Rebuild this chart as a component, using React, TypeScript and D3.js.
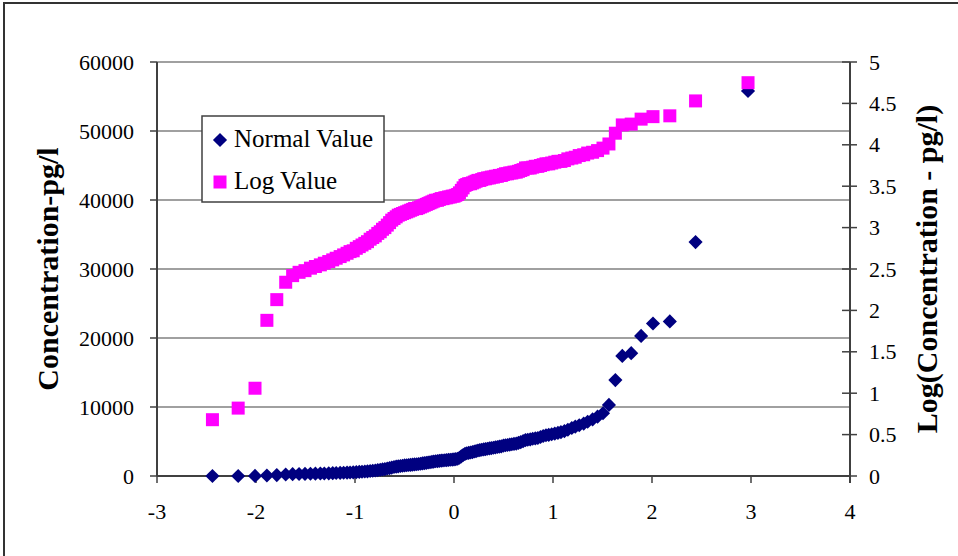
import React from "react";
import * as d3 from "d3";

// Normal scores (z) for each ranked sample
const zScores = [
  -2.44, -2.18, -2.01, -1.89, -1.79, -1.7, -1.63, -1.565, -1.505, -1.45,
  -1.4, -1.35, -1.31, -1.265, -1.225, -1.19, -1.15, -1.115, -1.08, -1.05,
  -1.018, -0.987, -0.957, -0.929, -0.901, -0.874, -0.847, -0.821, -0.795, -0.77,
  -0.745, -0.722, -0.698, -0.674, -0.651, -0.629, -0.606, -0.584, -0.563, -0.541,
  -0.52, -0.499, -0.478, -0.458, -0.438, -0.418, -0.398, -0.377, -0.358, -0.338,
  -0.319, -0.3, -0.28, -0.261, -0.242, -0.223, -0.205, -0.186, -0.167, -0.148,
  -0.129, -0.111, -0.092, -0.074, -0.055, -0.037, -0.018, 0, 0.018, 0.037,
  0.055, 0.074, 0.092, 0.111, 0.129, 0.148, 0.167, 0.186, 0.205, 0.223,
  0.242, 0.261, 0.28, 0.3, 0.319, 0.338, 0.358, 0.377, 0.398, 0.418,
  0.438, 0.458, 0.478, 0.499, 0.52, 0.541, 0.563, 0.584, 0.606, 0.629,
  0.651, 0.674, 0.698, 0.722, 0.745, 0.77, 0.795, 0.821, 0.847, 0.874,
  0.901, 0.929, 0.957, 0.987, 1.018, 1.05, 1.08, 1.115, 1.15, 1.19,
  1.225, 1.265, 1.31, 1.35, 1.4, 1.45, 1.505, 1.565, 1.63, 1.7,
  1.79, 1.89, 2.01, 2.18, 2.44, 2.97,
];

// Concentration (pg/l), left axis
const normalValues = [
  5, 7, 11, 76, 135, 220, 265, 290, 305, 320,
  340, 355, 370, 390, 410, 430, 450, 470, 490, 510,
  530, 560, 590, 620, 650, 680, 720, 760, 800, 850,
  900, 950, 1000, 1080, 1150, 1220, 1300, 1350, 1400, 1450,
  1490, 1530, 1560, 1590, 1620, 1650, 1680, 1700, 1740, 1780,
  1820, 1860, 1900, 1950, 2000, 2040, 2080, 2130, 2150, 2200,
  2230, 2250, 2280, 2300, 2330, 2350, 2380, 2400, 2450, 2500,
  2650, 2850, 3050, 3200, 3300, 3350, 3400, 3450, 3550, 3600,
  3700, 3750, 3800, 3850, 3900, 3950, 4000, 4050, 4100, 4150,
  4200, 4250, 4300, 4400, 4450, 4500, 4550, 4600, 4650, 4700,
  4800, 4900, 5050, 5200, 5250, 5300, 5400, 5450, 5500, 5650,
  5800, 5900, 5950, 6050, 6150, 6250, 6350, 6500, 6700, 6950,
  7150, 7350, 7600, 7870, 8200, 8600, 9100, 10300, 13900, 17400,
  17800, 20300, 22100, 22400, 33900, 55800,
];

// Log10 of concentration, right axis
const logValues = [
  0.68, 0.82, 1.06, 1.88, 2.13, 2.34, 2.42, 2.46, 2.48, 2.51,
  2.53, 2.55, 2.57, 2.59, 2.61, 2.63, 2.65, 2.67, 2.69, 2.71,
  2.72, 2.75, 2.77, 2.79, 2.81, 2.83, 2.86, 2.88, 2.9, 2.93,
  2.95, 2.98, 3.0, 3.03, 3.06, 3.09, 3.11, 3.13, 3.15, 3.16,
  3.17, 3.18, 3.19, 3.2, 3.21, 3.22, 3.23, 3.23, 3.24, 3.25,
  3.26, 3.27, 3.28, 3.29, 3.3, 3.31, 3.32, 3.33, 3.33, 3.34,
  3.35, 3.35, 3.36, 3.36, 3.37, 3.37, 3.38, 3.38, 3.39, 3.4,
  3.42, 3.45, 3.48, 3.51, 3.52, 3.53, 3.53, 3.54, 3.55, 3.56,
  3.57, 3.57, 3.58, 3.59, 3.59, 3.6, 3.6, 3.61, 3.61, 3.62,
  3.62, 3.63, 3.63, 3.64, 3.65, 3.65, 3.66, 3.66, 3.67, 3.67,
  3.68, 3.69, 3.7, 3.72, 3.72, 3.72, 3.73, 3.74, 3.74, 3.75,
  3.76, 3.77, 3.77, 3.78, 3.79, 3.8, 3.8, 3.81, 3.83, 3.84,
  3.85, 3.87, 3.88, 3.9, 3.91, 3.93, 3.96, 4.01, 4.14, 4.24,
  4.25, 4.31, 4.34, 4.35, 4.53, 4.75,
];

const xTicks = [-3, -2, -1, 0, 1, 2, 3, 4];
const leftTicks = [0, 10000, 20000, 30000, 40000, 50000, 60000];
const rightTicks = [0, 0.5, 1, 1.5, 2, 2.5, 3, 3.5, 4, 4.5, 5];
const rightTickLabels = ["0", "0.5", "1", "1.5", "2", "2.5", "3", "3.5", "4", "4.5", "5"];
const seriesNames = ["Normal Value", "Log Value"];

const W = 958;
const H = 556;
const plot = { left: 157, right: 850, top: 62, bottom: 476 };
const FONT = "'Times New Roman', 'Liberation Serif', serif";
const NAVY = "#000080";
const MAGENTA = "#FF00FF";
const GRID = "#808080";
const AXIS = "#404040";

export default function App() {
  const x = d3.scaleLinear().domain([-3, 4]).range([plot.left, plot.right]);
  const yL = d3.scaleLinear().domain([0, 60000]).range([plot.bottom, plot.top]);
  const yR = d3.scaleLinear().domain([0, 5]).range([plot.bottom, plot.top]);

  const diamond = d3.symbol().type(d3.symbolSquare).size(100)() as string;
  const square = d3.symbol().type(d3.symbolSquare).size(169)() as string;

  const normalPts = zScores.map((z, i) => ({ z, v: normalValues[i] }));
  const logPts = zScores.map((z, i) => ({ z, v: logValues[i] }));

  return (
    <svg
      width={W}
      height={H}
      style={{ position: "absolute", left: 0, top: 0, background: "#fff" }}
      fontFamily={FONT}
    >
      <rect x={0} y={0} width={W} height={H} fill="#fff" />
      {/* chart area border */}
      <path d={`M4,${H + 2} L4,3 L${W + 2},3`} fill="none" stroke="#333" strokeWidth={2} />

      {/* horizontal gridlines */}
      {leftTicks.slice(1).map((t) => (
        <line key={t} x1={plot.left} x2={plot.right} y1={yL(t)} y2={yL(t)} stroke={GRID} strokeWidth={1.5} />
      ))}

      {/* axes */}
      <line x1={plot.left} x2={plot.left} y1={plot.top} y2={plot.bottom} stroke={AXIS} strokeWidth={2} />
      <line x1={plot.right} x2={plot.right} y1={plot.top} y2={plot.bottom + 7} stroke={AXIS} strokeWidth={2} />
      <line x1={plot.left} x2={plot.right} y1={plot.bottom} y2={plot.bottom} stroke={AXIS} strokeWidth={2} />

      {/* left axis ticks and labels */}
      {leftTicks.map((t) => (
        <g key={t}>
          <line x1={plot.left - 7} x2={plot.left} y1={yL(t)} y2={yL(t)} stroke={AXIS} strokeWidth={1.5} />
          <text x={134} y={yL(t) + 7.5} fontSize={22} textAnchor="end" fill="#000">
            {t}
          </text>
        </g>
      ))}

      {/* right axis ticks and labels */}
      {rightTicks.map((t, i) => (
        <g key={t}>
          <line x1={plot.right - 8} x2={plot.right + 7} y1={yR(t)} y2={yR(t)} stroke={AXIS} strokeWidth={1.5} />
          <text x={869} y={yR(t) + 7.5} fontSize={22} textAnchor="start" fill="#000">
            {rightTickLabels[i]}
          </text>
        </g>
      ))}

      {/* x axis ticks and labels */}
      {xTicks.map((t) => (
        <g key={t}>
          <line x1={x(t)} x2={x(t)} y1={plot.bottom} y2={plot.bottom + 7} stroke={AXIS} strokeWidth={1.5} />
          <text x={x(t)} y={519} fontSize={22} textAnchor="middle" fill="#000">
            {t}
          </text>
        </g>
      ))}

      {/* axis titles */}
      <text
        transform={`translate(58, ${(plot.top + plot.bottom) / 2}) rotate(-90)`}
        textAnchor="middle"
        fontSize={30}
        fontWeight="bold"
        fill="#000"
      >
        Concentration-pg/l
      </text>
      <text
        transform={`translate(937, ${(plot.top + plot.bottom) / 2}) rotate(-90)`}
        textAnchor="middle"
        fontSize={30}
        fontWeight="bold"
        fill="#000"
      >
        Log(Concentration - pg/l)
      </text>

      {/* series: concentration (diamonds) */}
      <g fill={NAVY}>
        {normalPts.map((p, i) => (
          <path key={i} d={diamond} transform={`translate(${x(p.z)},${yL(p.v)}) rotate(45)`} />
        ))}
      </g>
      {/* series: log concentration (squares) */}
      <g fill={MAGENTA}>
        {logPts.map((p, i) => (
          <path key={i} d={square} transform={`translate(${x(p.z)},${yR(p.v)})`} />
        ))}
      </g>

      {/* legend */}
      <rect x={202} y={116} width={182} height={86} fill="#fff" stroke="#404040" strokeWidth={1.5} />
      <path d={diamond} fill={NAVY} transform="translate(220,140) rotate(45)" />
      <text x={234} y={147} fontSize={25} fill="#000">
        {seriesNames[0]}
      </text>
      <path d={square} fill={MAGENTA} transform="translate(220,182)" />
      <text x={234} y={189} fontSize={25} fill="#000">
        {seriesNames[1]}
      </text>
    </svg>
  );
}
